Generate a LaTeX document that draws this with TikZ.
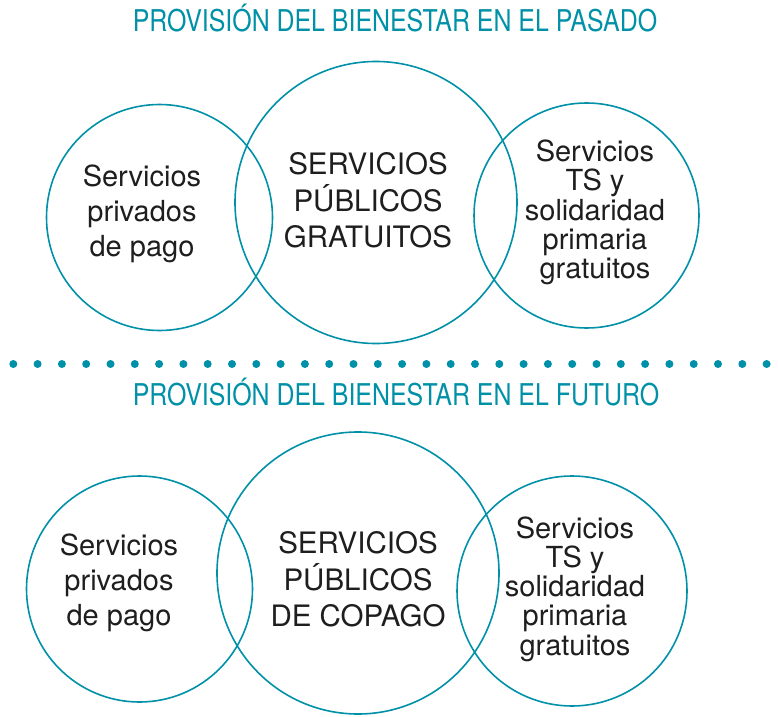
\documentclass[tikz,border=0pt]{standalone}
\usepackage{fontspec}
\setmainfont{TeX Gyre Heros}
\newfontfamily\titlefont[FakeStretch=0.83]{TeX Gyre Heros}
\usepackage{tikz}
\usetikzlibrary{positioning}
\definecolor{bienteal}{RGB}{0,145,168}
\definecolor{bientext}{RGB}{30,30,30}

\begin{document}
\begin{tikzpicture}[
  x=1pt, y=1pt,
  ring/.style={draw=bienteal, line width=1.6pt, circle, inner sep=0pt},
  ringtext/.style={text=bientext, align=center, inner sep=0pt, font=\fontsize{29}{35}\selectfont},
  bigtext/.style={ringtext, font=\fontsize{29.5}{36.5}\selectfont},
  tighttext/.style={ringtext, font=\fontsize{29}{29.3}\selectfont},
  heading/.style={text=bienteal, anchor=base, inner sep=0pt, font=\titlefont\fontsize{30}{36}\selectfont},
  sepdot/.style={fill=bienteal, circle, inner sep=0pt, minimum size=8pt}
]
\useasboundingbox (0,0) rectangle (778,716);

% pasado
\node[heading] (titpasado) at (395,684) {PROVISIÓN DEL BIENESTAR EN EL PASADO};
\node[ring, minimum size=226pt] (paspriv) at (159.5,498.5) {};
\node[ring, minimum size=282pt] (paspub) at (376,513.5) {};
\node[ring, minimum size=225pt] (passol) at (586.5,500.5) {};
\node[ringtext] (txtpaspriv) at (142,502) {Servicios\\privados\\de pago};
\node[bigtext] (txtpaspub) at (368,515.5) {SERVICIOS\\PÚBLICOS\\GRATUITOS};
\node[tighttext] (txtpassol) at (595,503.5) {Servicios\\TS y\\solidaridad\\primaria\\gratuitos};

% separador
\foreach \i in {0,...,32}
  \node[sepdot] (d\i) at (13.3+24.3*\i,352) {};

% futuro
\node[heading] (titfuturo) at (396,311) {PROVISIÓN DEL BIENESTAR EN EL FUTURO};
\node[ring, minimum size=226pt] (futpriv) at (139.5,127) {};
\node[ring, minimum size=282pt] (futpub) at (358,143) {};
\node[ring, minimum size=230pt] (futsol) at (572,125) {};
\node[ringtext] (txtfutpriv) at (119,133) {Servicios\\privados\\de pago};
\node[bigtext] (txtfutpub) at (358,136.5) {SERVICIOS\\PÚBLICOS\\DE COPAGO};
\node[tighttext] (txtfutsol) at (575,127) {Servicios\\TS y\\solidaridad\\primaria\\gratuitos};
\end{tikzpicture}
\end{document}
